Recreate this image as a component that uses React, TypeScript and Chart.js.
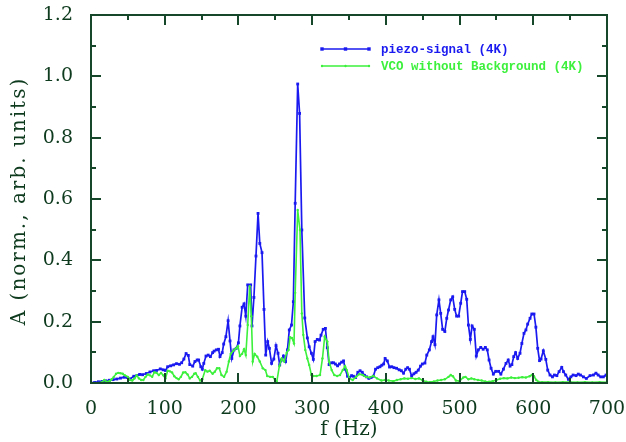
import React, { useEffect, useRef } from "react";
import { Chart, registerables } from "chart.js";

Chart.register(...registerables);

// ---- data -----------------------------------------------------------
const xTickLabels = ["0", "100", "200", "300", "400", "500", "600", "700"];
const yTickLabels = ["0.0", "0.2", "0.4", "0.6", "0.8", "1.0", "1.2"];

const xTitle = "f (Hz)";
const yTitle = "A (norm., arb. units)";
const blueLabel = "piezo-signal (4K)";
const greenLabel = "VCO without Background (4K)";

const blueFreq = [
  0, 5, 10, 15, 20, 25, 30, 35, 40, 45, 49, 53, 58, 62, 66, 70, 75, 80, 85, 89,
  94, 98, 101, 104, 108, 112, 116, 120, 123, 126, 129, 132, 134, 138, 141, 144, 146, 149, 151, 153,
  156, 159, 162, 165, 167, 170, 173, 175, 178, 180, 183, 186, 188.6, 191, 194, 197, 200, 202, 205, 207.6,
  210, 212.6, 216.6, 218.4, 221, 223.8, 226.6, 229, 232, 234.7, 237, 239.7, 242, 245, 248, 251, 253.7, 256, 258.5, 261,
  264, 266.5, 269, 272, 274.5, 277, 280.4, 283, 286, 290, 293.5, 296, 299, 301.6, 304, 307, 310, 312, 315, 318,
  320.6, 323, 326.5, 329, 331.5, 334.5, 337, 340, 342.6, 345, 348, 351, 353.5, 356, 359, 362, 365, 368, 371, 374,
  377, 380, 383, 386, 389, 392, 394.5, 397, 399, 402, 405, 408, 411, 414.5, 418, 421, 424, 427, 429.5, 432,
  435, 438, 441, 444, 447, 449.5, 453, 455.5, 459, 462, 464, 466.6, 469, 472, 474.4, 477, 480, 482.6, 485, 488,
  490.7, 493.4, 496, 498.8, 501.5, 504, 507, 509.7, 512, 514.6, 517, 520, 522.7, 525.4, 528.7, 532, 535, 537.6, 540, 542.7,
  545.8, 549, 553, 556, 559.5, 563, 566, 568.5, 571, 573.5, 576, 578.8, 582, 584.5, 587.4, 590, 592.4, 595.6, 598, 601,
  603.5, 606, 608.5, 610.5, 613.6, 617, 619.6, 622.7, 626, 628.6, 632, 635, 638.6, 641, 644, 647.6, 651, 654, 658, 661,
  664, 668, 672, 677, 681.6, 685, 688, 691.5, 695, 698.7, 700,
];
const blueAmp = [
  0.0, 0.002, 0.004, 0.005, 0.007, 0.009, 0.011, 0.013, 0.016, 0.019, 0.018, 0.013, 0.022, 0.024, 0.028, 0.027, 0.031, 0.036, 0.04, 0.041,
  0.046, 0.043, 0.041, 0.053, 0.056, 0.059, 0.063, 0.061, 0.066, 0.078, 0.096, 0.09, 0.06, 0.055, 0.07, 0.075, 0.075, 0.053, 0.045, 0.064,
  0.088, 0.091, 0.086, 0.099, 0.104, 0.108, 0.11, 0.086, 0.099, 0.127, 0.151, 0.203, 0.137, 0.08, 0.108, 0.113, 0.131, 0.186, 0.247, 0.258,
  0.218, 0.32, 0.32, 0.186, 0.279, 0.414, 0.553, 0.455, 0.425, 0.24, 0.091, 0.135, 0.113, 0.064, 0.078, 0.122, 0.097, 0.059, 0.075, 0.088,
  0.07, 0.108, 0.173, 0.189, 0.265, 0.586, 0.975, 0.879, 0.499, 0.212, 0.147, 0.118, 0.097, 0.077, 0.135, 0.142, 0.14, 0.156, 0.175, 0.178,
  0.115, 0.06, 0.066, 0.066, 0.062, 0.056, 0.062, 0.068, 0.072, 0.045, 0.022, 0.018, 0.024, 0.022, 0.018, 0.035, 0.04, 0.035, 0.025, 0.02,
  0.015, 0.018, 0.022, 0.045, 0.05, 0.053, 0.058, 0.062, 0.08, 0.072, 0.052, 0.053, 0.05, 0.048, 0.043, 0.04, 0.032, 0.045, 0.05, 0.045,
  0.023, 0.03, 0.035, 0.042, 0.055, 0.062, 0.065, 0.091, 0.108, 0.135, 0.151, 0.125, 0.222, 0.271, 0.227, 0.175, 0.168, 0.211, 0.238, 0.271,
  0.281, 0.24, 0.218, 0.218, 0.26, 0.298, 0.298, 0.273, 0.189, 0.142, 0.186, 0.175, 0.088, 0.108, 0.116, 0.11, 0.116, 0.108, 0.075, 0.048,
  0.029, 0.038, 0.038, 0.029, 0.045, 0.064, 0.075, 0.055, 0.06, 0.086, 0.099, 0.08, 0.097, 0.129, 0.162, 0.173, 0.192, 0.211, 0.225, 0.225,
  0.182, 0.113, 0.073, 0.078, 0.105, 0.077, 0.042, 0.026, 0.02, 0.026, 0.024, 0.037, 0.051, 0.037, 0.026, 0.012, 0.02, 0.026, 0.024, 0.029,
  0.026, 0.02, 0.015, 0.024, 0.026, 0.032, 0.026, 0.02, 0.02, 0.026, 0.025,
];

const greenFreq = [
  0, 5, 10, 15, 18, 21, 25, 28, 31, 34, 37, 40, 43, 46, 50, 53, 56, 59, 62, 65,
  68, 71, 74, 77, 80, 83, 86, 89, 92, 95, 98, 101, 104, 107, 110, 113, 116, 119, 122, 125,
  128, 131, 134, 137, 140, 142, 145, 148, 151, 155, 158, 161, 165, 168, 171, 174, 177, 180.5, 184, 187,
  189.5, 193, 196.7, 199.4, 202, 205, 207.6, 210, 212.6, 215.3, 217.5, 219.4, 222, 225.6, 229, 233, 236.6, 239, 243, 246.6,
  249.6, 252, 255.5, 258.7, 262, 265.5, 268, 270, 272.6, 275.4, 277, 280.4, 283.5, 286, 288, 290.7, 293.5, 296, 299, 301.6,
  306, 310.7, 314, 317, 320.6, 323, 326.5, 330, 334, 337.8, 341.5, 344.6, 347, 350.5, 355, 359.6, 364, 368.6, 373, 378,
  383, 388, 394, 399, 404, 410, 415, 420, 425, 430, 435, 440, 445, 450, 455, 460, 465, 470, 475, 480,
  485, 488, 491, 495, 500, 505, 508, 512, 516, 520, 525, 530, 535, 540, 545, 550, 555, 560, 565, 570,
  575, 580, 585, 590, 595, 598, 601, 604, 607, 612, 620, 630, 640, 650, 660, 670, 680, 690, 700,
];
const greenAmp = [
  0.0, 0.0, 0.0, 0.003, 0.01, 0.004, 0.006, 0.012, 0.02, 0.03, 0.033, 0.032, 0.03, 0.025, 0.02, 0.01, 0.008, 0.015, 0.025, 0.015,
  0.01, 0.01, 0.02, 0.028, 0.025, 0.02, 0.035, 0.033, 0.026, 0.033, 0.025, 0.015, 0.04, 0.038, 0.034, 0.022, 0.016, 0.012, 0.02, 0.034,
  0.035, 0.028, 0.015, 0.02, 0.03, 0.032, 0.02, 0.008, 0.012, 0.042, 0.037, 0.04, 0.03, 0.037, 0.048, 0.048, 0.026, 0.02, 0.037, 0.07,
  0.095, 0.105, 0.113, 0.12, 0.088, 0.095, 0.11, 0.091, 0.189, 0.316, 0.218, 0.07, 0.095, 0.086, 0.07, 0.048, 0.042, 0.023, 0.02, 0.02,
  0.01, 0.004, 0.055, 0.08, 0.07, 0.099, 0.108, 0.149, 0.147, 0.129, 0.294, 0.564, 0.499, 0.227, 0.157, 0.108, 0.08, 0.059, 0.026, 0.023,
  0.023, 0.026, 0.08, 0.151, 0.135, 0.07, 0.042, 0.026, 0.023, 0.026, 0.042, 0.055, 0.042, 0.015, 0.01, 0.02, 0.029, 0.026, 0.02, 0.018,
  0.023, 0.015, 0.008, 0.01, 0.008, 0.006, 0.01, 0.012, 0.015, 0.014, 0.016, 0.013, 0.015, 0.008, 0.004, 0.003, 0.005, 0.008, 0.01, 0.012,
  0.02, 0.026, 0.022, 0.008, 0.006, 0.018, 0.02, 0.012, 0.015, 0.012, 0.01, 0.008, 0.005, 0.004, 0.006, 0.01, 0.014, 0.016, 0.015, 0.018,
  0.016, 0.017, 0.019, 0.018, 0.022, 0.026, 0.022, 0.01, 0.004, 0.003, 0.003, 0.002, 0.003, 0.003, 0.002, 0.003, 0.002, 0.003, 0.002,
];

// ---- styles ---------------------------------------------------------
const BLUE = "#1a1af0";
const GREEN = "#3cf03c";
const AXIS = "#17472a";
const TEXT = "#0e3a1e";
const SERIF = "'DejaVu Serif', serif";

const framePlugin = {
  id: "frameTicks",
  afterDraw(chart: any) {
    const { ctx, chartArea: a, scales } = chart;
    const xs = scales.x;
    const ys = scales.y;
    ctx.save();
    ctx.strokeStyle = AXIS;
    ctx.lineWidth = 2;
    ctx.lineCap = "butt";
    ctx.beginPath();
    for (let v = 0; v <= 700; v += 50) {
      const px = Math.round(xs.getPixelForValue(v));
      const len = v % 100 === 0 ? 10 : 5;
      ctx.moveTo(px, a.bottom);
      ctx.lineTo(px, a.bottom - len);
      ctx.moveTo(px, a.top);
      ctx.lineTo(px, a.top + len);
    }
    for (let i = 0; i <= 12; i++) {
      const py = Math.round(ys.getPixelForValue(i / 10));
      const len = i % 2 === 0 ? 10 : 5;
      ctx.moveTo(a.left, py);
      ctx.lineTo(a.left + len, py);
      ctx.moveTo(a.right, py);
      ctx.lineTo(a.right - len, py);
    }
    ctx.stroke();
    ctx.strokeRect(a.left, a.top, a.right - a.left, a.bottom - a.top);

    // y-axis title (letter-spaced, rotated)
    ctx.fillStyle = TEXT;
    ctx.font = `20px ${SERIF}`;
    (ctx as any).letterSpacing = "2px";
    ctx.textAlign = "center";
    ctx.textBaseline = "middle";
    ctx.translate(20, (a.top + a.bottom) / 2 + 2);
    ctx.rotate(-Math.PI / 2);
    ctx.fillText(yTitle, 0, 0);
    ctx.restore();
  },
};

const legendPlugin = {
  id: "insideLegend",
  afterDraw(chart: any) {
    const { ctx } = chart;
    const items = [
      { label: blueLabel, color: BLUE, y: 49, r: 1.7, rect: true },
      { label: greenLabel, color: GREEN, y: 66, r: 1.2, rect: false },
    ];
    ctx.save();
    for (const it of items) {
      ctx.strokeStyle = it.color;
      ctx.fillStyle = it.color;
      ctx.lineWidth = 1.5;
      ctx.beginPath();
      ctx.moveTo(322, it.y);
      ctx.lineTo(369, it.y);
      ctx.stroke();
      for (const px of [322, 345.5, 369]) {
        if (it.rect) ctx.fillRect(px - it.r, it.y - it.r, it.r * 2, it.r * 2);
        else {
          ctx.beginPath();
          ctx.arc(px, it.y, it.r, 0, Math.PI * 2);
          ctx.fill();
        }
      }
      ctx.font = "bold 12.5px 'Liberation Mono', 'DejaVu Sans Mono', monospace";
      ctx.textBaseline = "middle";
      ctx.textAlign = "left";
      ctx.fillText(it.label, 381, it.y + 1);
    }
    ctx.restore();
  },
};

export default function App() {
  const ref = useRef<HTMLCanvasElement | null>(null);

  useEffect(() => {
    if (!ref.current) return;
    const blueData = blueFreq.map((f, i) => ({ x: f, y: blueAmp[i] }));
    const greenData = greenFreq.map((f, i) => ({ x: f, y: greenAmp[i] }));
    const chart = new Chart(ref.current, {
      type: "line",
      data: {
        datasets: [
          {
            label: blueLabel,
            data: blueData,
            borderColor: BLUE,
            backgroundColor: BLUE,
            borderWidth: 1.7,
            pointRadius: 2,
            pointStyle: "rect",
            pointBorderWidth: 0,
            tension: 0,
            order: 1,
          },
          {
            label: greenLabel,
            data: greenData,
            borderColor: GREEN,
            backgroundColor: GREEN,
            borderWidth: 1.6,
            pointRadius: 1.2,
            pointBorderWidth: 0,
            tension: 0,
            order: 0,
          },
        ],
      },
      options: {
        responsive: false,
        animation: false,
        events: [],
        layout: { padding: { left: 0, right: 19, top: 15, bottom: 0 } },
        plugins: { legend: { display: false }, tooltip: { enabled: false } },
        scales: {
          x: {
            type: "linear",
            min: 0,
            max: 700,
            grid: { display: false, drawTicks: false },
            border: { display: false },
            ticks: {
              stepSize: 100,
              padding: 15,
              maxRotation: 0,
              color: TEXT,
              font: { family: SERIF, size: 19 },
              callback: (v: any) => xTickLabels[Math.round(Number(v) / 100)] ?? "",
            },
            title: {
              display: true,
              text: xTitle,
              color: TEXT,
              font: { family: SERIF, size: 20 },
              padding: { top: 0, bottom: 0 },
            },
            afterFit: (s: any) => {
              s.height = 59;
              s.paddingLeft = 0;
              s.paddingRight = 0;
            },
          },
          y: {
            type: "linear",
            min: 0,
            max: 1.2,
            grid: { display: false, drawTicks: false },
            border: { display: false },
            ticks: {
              stepSize: 0.2,
              padding: 18,
              color: TEXT,
              font: { family: SERIF, size: 19 },
              callback: (v: any) => yTickLabels[Math.round(Number(v) * 5)] ?? "",
            },
            title: { display: false },
            afterFit: (s: any) => {
              s.width = 91;
              s.paddingTop = 0;
              s.paddingBottom = 0;
            },
          },
        },
      },
      plugins: [framePlugin, legendPlugin],
    });
    return () => chart.destroy();
  }, []);

  return (
    <div style={{ position: "absolute", left: 0, top: 0, width: 626, height: 442, background: "#fff" }}>
      <canvas ref={ref} width={626} height={442} style={{ display: "block" }} />
    </div>
  );
}
